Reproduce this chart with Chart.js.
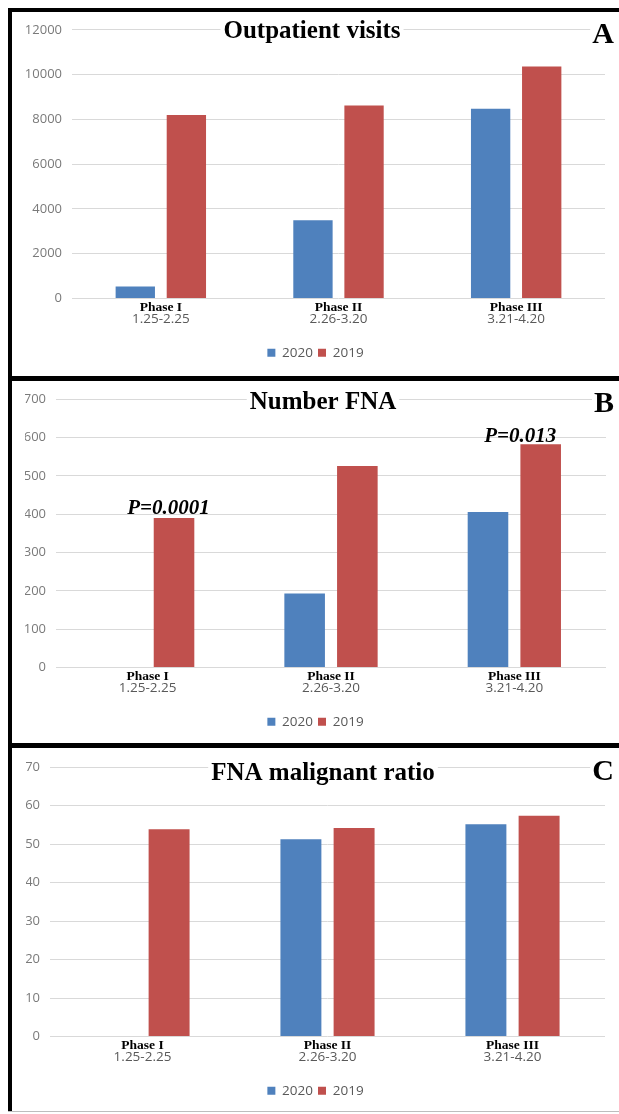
<!DOCTYPE html>
<html>
<head>
<meta charset="utf-8">
<script src="https://cdn.jsdelivr.net/npm/chart.js@4.4.1/dist/chart.umd.min.js"></script>
<style>
html,body{margin:0;padding:0;background:#fff;}
body{width:619px;height:1114px;position:relative;overflow:hidden;}
.bar{position:absolute;background:#000;}
.panel{position:absolute;left:12px;width:607px;}
canvas{display:block;}
</style>
</head>
<body>
<div class="bar" style="left:8px;top:8px;width:4px;height:1104px;"></div>
<div class="bar" style="left:8px;top:8px;width:611px;height:4px;"></div>
<div class="bar" style="left:8px;top:376px;width:611px;height:5px;"></div>
<div class="bar" style="left:8px;top:743px;width:611px;height:5px;"></div>
<div class="bar" style="left:8px;top:1111px;width:611px;height:1px;background:#bdbdbd;"></div>

<div class="panel" style="top:12px;height:364px;"><canvas id="cA" width="607" height="364"></canvas></div>
<div class="panel" style="top:381px;height:362px;"><canvas id="cB" width="607" height="362"></canvas></div>
<div class="panel" style="top:748px;height:363px;"><canvas id="cC" width="607" height="363"></canvas></div>

<script>
// ---- data ----
const phases = ['Phase I', 'Phase II', 'Phase III'];
const dateRanges = ['1.25-2.25', '2.26-3.20', '3.21-4.20'];
const seriesNames = ['2020', '2019'];

const visits2020 = [540, 3500, 8470];
const visits2019 = [8200, 8620, 10360];

const fna2020 = [0, 193, 406];
const fna2019 = [390, 526, 583];

const malignant2020 = [null, 51.3, 55.2];
const malignant2019 = [53.9, 54.2, 57.4];

const fnaPValues = ['P=0.0001', null, 'P=0.013'];

const titles = ['Outpatient visits', 'Number FNA', 'FNA malignant ratio'];
const panelLetters = ['A', 'B', 'C'];

// ---- styles ----
const BLUE = '#4f81bd';
const RED = '#c0504d';
const GRID = '#d9d9d9';
const TICK = '#7a7a7a';

const overlayPlugin = {
  id: 'overlay',
  afterDraw(chart, args, o) {
    const ctx = chart.ctx;
    ctx.save();
    // title
    ctx.font = 'bold 25px "Liberation Serif"';
    ctx.textAlign = 'center';
    ctx.textBaseline = 'alphabetic';
    const w = ctx.measureText(o.title).width;
    ctx.fillStyle = '#fff';
    ctx.fillRect(o.titleX - w / 2 - 3, o.titleY - 20, w + 6, 24);
    ctx.fillStyle = '#000';
    ctx.fillText(o.title, o.titleX, o.titleY);
    // panel letter
    ctx.font = 'bold 30px "Liberation Serif"';
    const lw = ctx.measureText(o.letter).width;
    ctx.fillStyle = '#fff';
    ctx.fillRect(o.letterX - lw / 2 - 2, o.letterY - 22, lw + 4, 24);
    ctx.fillStyle = '#000';
    ctx.fillText(o.letter, o.letterX, o.letterY);
    // annotations on 2019 bars
    if (o.notes) {
      const meta = chart.getDatasetMeta(1);
      ctx.font = 'italic bold 21px "Liberation Serif"';
      o.notes.forEach((t, i) => {
        if (!t) return;
        const el = meta.data[i];
        ctx.fillText(t, el.x + o.noteDx[i], el.y - o.noteDy[i]);
      });
    }
    ctx.restore();
  }
};

function makeChart(id, a, b, yMax, step, leftW, pad, overlay) {
  return new Chart(document.getElementById(id), {
    type: 'bar',
    data: {
      labels: phases,
      datasets: [
        { label: seriesNames[0], data: a, backgroundColor: BLUE, borderWidth: 0, xAxisID: 'x', yAxisID: 'y',
          categoryPercentage: 0.575, barPercentage: 0.77 },
        { label: seriesNames[1], data: b, backgroundColor: RED, borderWidth: 0, xAxisID: 'x', yAxisID: 'y',
          categoryPercentage: 0.575, barPercentage: 0.77 }
      ]
    },
    options: {
      responsive: false,
      animation: false,
      devicePixelRatio: 1,
      layout: { padding: pad },
      plugins: {
        title: { display: false },
        tooltip: { enabled: false },
        legend: {
          display: true,
          position: 'bottom',
          labels: {
            boxWidth: 8, boxHeight: 8, padding: 5, color: '#595959',
            font: { family: '"Open Sans"', size: 13.5 }
          }
        },
        overlay: overlay
      },
      scales: {
        x: {
          type: 'category', position: 'bottom', offset: true, weight: 0,
          grid: { display: false, drawTicks: false }, border: { display: false },
          ticks: { color: '#000', padding: 0.5, maxRotation: 0, autoSkip: false,
            font: { family: '"Liberation Serif"', weight: 'bold', size: 13.5, lineHeight: 1.2 } },
          afterFit(s) { s.height = 14; }
        },
        x2: {
          type: 'category', labels: dateRanges, position: 'bottom', offset: true, weight: 1,
          grid: { display: false, drawTicks: false }, border: { display: false },
          ticks: { color: '#595959', padding: 0, maxRotation: 0, autoSkip: false,
            font: { family: '"Open Sans"', size: 13.5, lineHeight: 1 } },
          afterFit(s) { s.height = 28.5; }
        },
        y: {
          min: 0, max: yMax,
          grid: { color: GRID, lineWidth: 1, drawTicks: false }, border: { display: false },
          ticks: { stepSize: step, color: TICK, padding: 10, format: { useGrouping: false },
            font: { family: '"Open Sans"', size: 13 } },
          afterFit(s) { s.width = leftW; }
        }
      }
    },
    plugins: [overlayPlugin]
  });
}

makeChart('cA', visits2020, visits2019, 12000, 2000, 46,
  { top: 17.5, right: 14, bottom: 6.5, left: 14 },
  { title: titles[0], titleX: 300, titleY: 25.7, letter: panelLetters[0], letterX: 591, letterY: 30.7 });

makeChart('cB', fna2020, fna2019, 700, 100, 31,
  { top: 18.3, right: 13, bottom: 4.5, left: 13 },
  { title: titles[1], titleX: 311, titleY: 28, letter: panelLetters[1], letterX: 592, letterY: 30.7,
    notes: fnaPValues, noteDx: [-5.5, 0, -20.5], noteDy: [4, 0, 2] });

makeChart('cC', malignant2020, malignant2019, 70, 10, 24,
  { top: 19.3, right: 14, bottom: 3.5, left: 14 },
  { title: titles[2], titleX: 311, titleY: 32, letter: panelLetters[2], letterX: 591, letterY: 32 });
</script>
</body>
</html>
